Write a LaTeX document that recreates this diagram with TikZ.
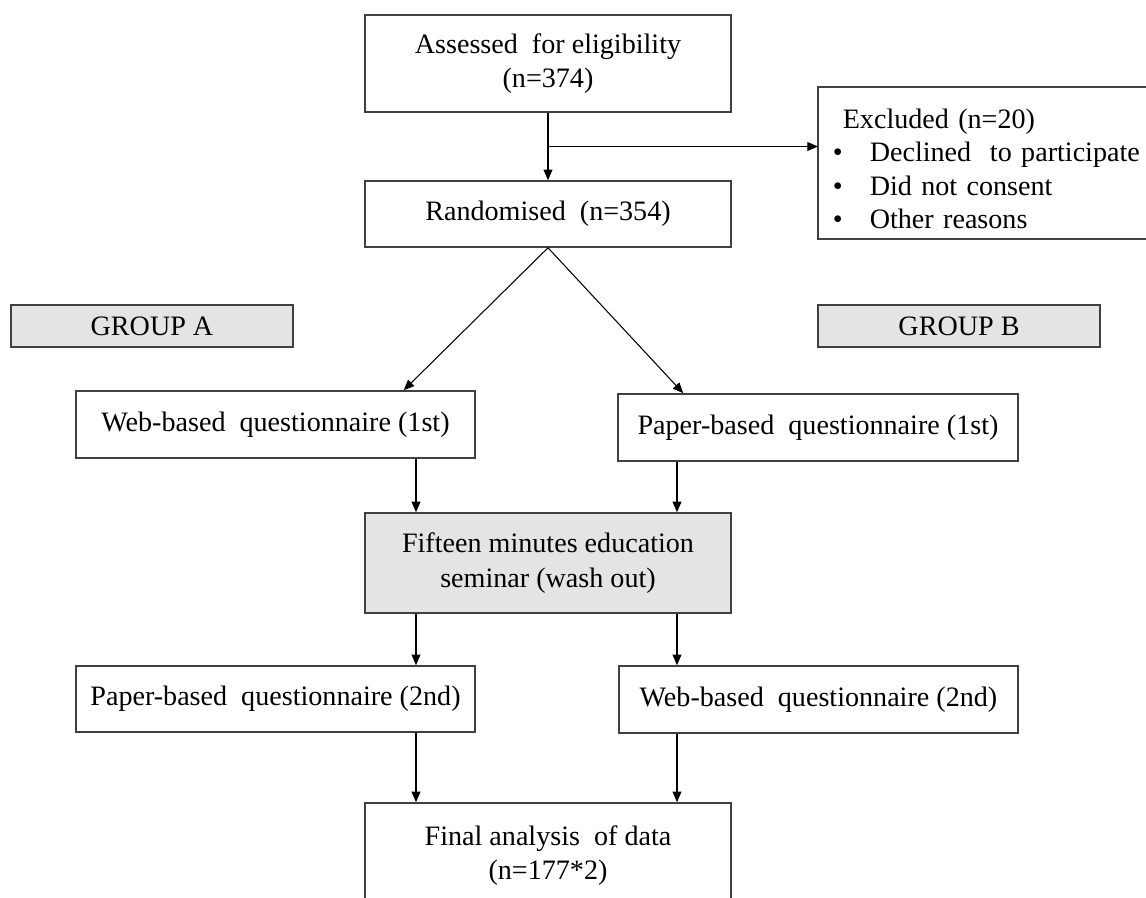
\documentclass[tikz,border=0pt]{standalone}
\usepackage{fontspec}
\setmainfont{Liberation Serif}
\usetikzlibrary{arrows.meta, positioning, calc}
\definecolor{boxline}{HTML}{404040}
\definecolor{shade}{HTML}{E4E4E4}

\begin{document}
\begin{tikzpicture}[
  x=0.02cm, y=-0.02cm,
  >={Triangle[length=6pt, width=5pt]},
  flowbox/.style={draw=boxline, line width=0.9pt, fill=white, align=center,
                  font=\fontsize{16}{19.5}\selectfont, inner sep=0pt},
  groupbox/.style={flowbox, fill=shade, minimum width=5.64cm, minimum height=0.84cm},
  link/.style={line width=0.6pt, ->},
]

% Page (boxes on the right and bottom run off the edge)
\useasboundingbox (0,0) rectangle (1146,897);
\clip (0,0) rectangle (1146,897);
\fill[white] (0,0) rectangle (1146,897);

% ============ Enrolment ============
\node[flowbox, minimum width=7.32cm, minimum height=1.94cm] (assess) at (548,63.5) {Assessed\ \ for eligibility\\(n=374)};

\node[flowbox, minimum width=7.32cm, minimum height=1.32cm] (random) at (548,214) {Randomised\ \ (n=354)};

% Excluded box is open to the right (it runs off the page)
\node[flowbox, draw=none, anchor=west, align=left, text width=7.2cm, inner xsep=0.28cm,
      minimum height=3cm, font=\fontsize{16}{19}\selectfont] (excl) at (818,163) {%
  \rule{0pt}{18pt}\hspace*{0.2cm}Excluded (n=20)\\
  \makebox[0.74cm][l]{\textbullet}Declined\ \ to participate\\
  \makebox[0.74cm][l]{\textbullet}Did not consent\\
  \makebox[0.74cm][l]{\textbullet}Other reasons};
\draw[boxline, line width=0.9pt] (excl.north east) -- (excl.north west) -- (excl.south west) -- (excl.south east);

% ============ Groups ============
\node[groupbox] (grpA) at (152,326) {GROUP A};
\node[groupbox] (grpB) at (959,326) {GROUP B};

% First questionnaire
\node[flowbox, minimum width=7.98cm, minimum height=1.34cm] (web1) at (275.5,424.5) {Web-based\ \ questionnaire (1st)};
\node[flowbox, minimum width=8.0cm, minimum height=1.34cm] (paper1) at (818,427.5) {Paper-based\ \ questionnaire (1st)};

% Wash out
\node[flowbox, fill=shade, minimum width=7.32cm, minimum height=2.0cm] (seminar) at (548,563) {Fifteen minutes education\\seminar (wash out)};

% Second questionnaire
\node[flowbox, minimum width=7.98cm, minimum height=1.32cm] (paper2) at (275.5,699) {Paper-based\ \ questionnaire (2nd)};
\node[flowbox, minimum width=7.98cm, minimum height=1.34cm] (web2) at (818.5,699.5) {Web-based\ \ questionnaire (2nd)};

% ============ Analysis ============
\node[flowbox, minimum width=7.32cm, minimum height=2.1cm] (final) at (548,855.5) {Final analysis\ \ of data\\(n=177*2)};

% ============ Connectors ============
\coordinate (split) at ($(assess.south)!0.5!(random.north)$);
\coordinate (colL) at (416,0);
\coordinate (colR) at (677,0);

\draw[link] (assess) -- (random);
\draw[link] (split) -- (split -| excl.west);

\draw[link] (random.south) -- ($(web1.north east)+(-72,0)$);
\draw[link] (random.south) -- ($(paper1.north west)+(66,0)$);

\draw[link] (web1.south -| colL) -- (seminar.north -| colL);
\draw[link] (paper1.south -| colR) -- (seminar.north -| colR);

\draw[link] (seminar.south -| colL) -- (paper2.north -| colL);
\draw[link] (seminar.south -| colR) -- (web2.north -| colR);

\draw[link] (paper2.south -| colL) -- (final.north -| colL);
\draw[link] (web2.south -| colR) -- (final.north -| colR);

\end{tikzpicture}
\end{document}
